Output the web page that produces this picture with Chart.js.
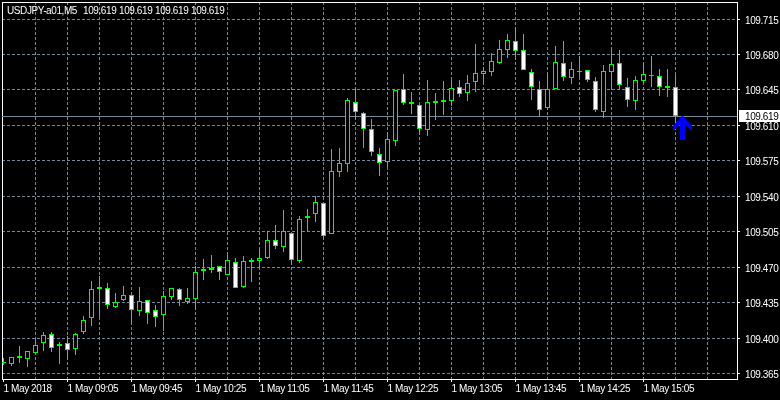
<!DOCTYPE html>
<html>
<head>
<meta charset="utf-8">
<script src="https://cdn.jsdelivr.net/npm/chart.js@4/dist/chart.umd.min.js"></script>
<style>
  html, body { margin: 0; padding: 0; background: #000; }
  canvas { display: block; }
</style>
</head>
<body>
<canvas id="chart" width="780" height="400"></canvas>
<script>
const symbolTitle = "USDJPY-a01,M5";
const lastPrice = 109.619;

const opens = [
  109.375,109.374,109.380,109.379,109.385,109.395,109.404,109.392,109.395,109.389,
  109.406,109.420,109.450,109.449,109.430,109.437,109.442,109.426,109.437,109.427,
  109.423,109.440,109.448,109.435,109.438,109.466,109.467,109.471,109.462,109.475,
  109.450,109.475,109.476,109.479,109.497,109.490,109.503,109.476,109.518,109.522,
  109.533,109.502,109.564,109.571,109.633,109.622,109.606,109.581,109.573,109.594,
  109.645,109.633,109.630,109.605,109.632,109.633,109.634,109.647,109.642,109.652,
  109.660,109.662,109.671,109.684,109.693,109.684,109.662,109.645,109.627,109.645,
  109.671,109.656,109.662,109.664,109.653,109.623,109.662,109.671,109.647,109.634,
  109.653,109.658,109.658,109.648,109.647
];
const highs = [
  109.380,109.381,109.392,109.387,109.399,109.406,109.406,109.396,109.402,109.405,
  109.422,109.456,109.461,109.454,109.444,109.451,109.442,109.450,109.437,109.432,
  109.446,109.449,109.449,109.449,109.471,109.478,109.482,109.471,109.484,109.479,
  109.481,109.479,109.488,109.505,109.511,109.526,109.503,109.520,109.527,109.540,
  109.533,109.586,109.587,109.637,109.646,109.623,109.616,109.587,109.603,109.644,
  109.660,109.643,109.631,109.654,109.642,109.653,109.654,109.654,109.659,109.690,
  109.667,109.681,109.694,109.700,109.707,109.700,109.665,109.653,109.660,109.688,
  109.693,109.672,109.678,109.664,109.657,109.669,109.686,109.684,109.656,109.658,
  109.671,109.678,109.665,109.665,109.659
];
const lows = [
  109.373,109.372,109.375,109.371,109.385,109.387,109.386,109.374,109.379,109.383,
  109.404,109.412,109.421,109.428,109.429,109.436,109.415,109.422,109.414,109.411,
  109.407,109.437,109.431,109.433,109.427,109.457,109.464,109.457,109.462,109.449,
  109.449,109.455,109.469,109.478,109.488,109.485,109.472,109.474,109.504,109.514,
  109.498,109.502,109.559,109.564,109.616,109.587,109.579,109.560,109.569,109.589,
  109.630,109.621,109.600,109.599,109.615,109.620,109.629,109.638,109.634,109.643,
  109.651,109.658,109.670,109.676,109.675,109.664,109.635,109.618,109.625,109.645,
  109.653,109.650,109.657,109.652,109.623,109.617,109.644,109.644,109.628,109.625,
  109.651,109.647,109.639,109.638,109.612
];
const closes = [
  109.376,109.381,109.382,109.387,109.393,109.403,109.390,109.394,109.388,109.404,
  109.418,109.448,109.448,109.432,109.435,109.442,109.427,109.436,109.425,109.421,
  109.441,109.449,109.437,109.439,109.465,109.468,109.469,109.465,109.477,109.449,
  109.476,109.477,109.479,109.497,109.491,109.505,109.477,109.517,109.520,109.534,
  109.500,109.565,109.572,109.635,109.623,109.606,109.583,109.572,109.596,109.644,
  109.632,109.631,109.606,109.633,109.634,109.635,109.646,109.641,109.651,109.661,
  109.663,109.673,109.685,109.694,109.683,109.664,109.647,109.625,109.645,109.672,
  109.657,109.665,109.663,109.654,109.625,109.663,109.670,109.649,109.635,109.654,
  109.660,109.659,109.647,109.646,109.619
];

// one tick every 4 bars gets a grid line, every 8th has a label
const gridIndexes = [4,8,12,16,20,24,28,32,36,40,44,48,52,56,60,64,68,72,76,80,84,88];
const tickIndexes = [0,8,16,24,32,40,48,56,64,72,80];
const tickLabels = [
  "1 May 2018","1 May 09:05","1 May 09:45","1 May 10:25","1 May 11:05","1 May 11:45",
  "1 May 12:25","1 May 13:05","1 May 13:45","1 May 14:25","1 May 15:05"
];
const priceTicks = [109.365,109.400,109.435,109.470,109.505,109.540,109.575,109.610,109.645,109.680,109.715];

const arrowIndex = 84.87;
const arrowPrice = 109.619;

const FONT = "10px 'Liberation Sans'";
const GRID = "#778899";
const GREEN = "#00ff00";
const XMIN = -0.1875;
const XMAX = 91.6875;

const bars = opens.map((o, i) => i);

const frame = {
  id: "frame",
  beforeDraw(chart) {
    chart.ctx.letterSpacing = "-0.4px";
  },
  beforeDatasetsDraw(chart) {
    const { ctx, chartArea: a, scales } = chart;
    ctx.save();
    ctx.strokeStyle = "#fff";
    ctx.lineWidth = 1;
    ctx.strokeRect(a.left + 0.5, a.top + 0.5, a.right - a.left, a.bottom - a.top);

    // last price line, behind the candles
    const y = Math.round(scales.y.getPixelForValue(lastPrice)) + 0.5;
    ctx.strokeStyle = GRID;
    ctx.beginPath();
    ctx.moveTo(a.left, y);
    ctx.lineTo(a.right, y);
    ctx.stroke();
    ctx.restore();
  },
  afterDraw(chart) {
    const { ctx, scales } = chart;
    ctx.save();
    ctx.font = FONT;
    ctx.textBaseline = "middle";

    // header text
    ctx.fillStyle = "#fff";
    ctx.fillText(symbolTitle, 7, 11);
    [83, 119, 155, 191].forEach(x => ctx.fillText(lastPrice.toFixed(3), x, 11));

    // last price tag
    const y = Math.round(scales.y.getPixelForValue(lastPrice));
    ctx.fillStyle = "#fff";
    ctx.fillRect(739, y - 6, 41, 12);
    ctx.fillStyle = "#000";
    ctx.fillText(lastPrice.toFixed(3), 745, y + 1);

    // blue arrow, its tip sits on the price
    const ax = scales.x.getPixelForValue(arrowIndex);
    const ay = scales.y.getPixelForValue(arrowPrice);
    ctx.fillStyle = "#0000ff";
    ctx.beginPath();
    ctx.moveTo(ax, ay - 0.5);
    ctx.lineTo(ax + 9.5, ay + 10);
    ctx.lineTo(ax + 9.5, ay + 15.5);
    ctx.lineTo(ax + 2.8, ay + 9);
    ctx.lineTo(ax + 2.8, ay + 24);
    ctx.lineTo(ax - 2.8, ay + 24);
    ctx.lineTo(ax - 2.8, ay + 9);
    ctx.lineTo(ax - 9.5, ay + 15.5);
    ctx.lineTo(ax - 9.5, ay + 10);
    ctx.closePath();
    ctx.fill();
    ctx.restore();
  }
};

new Chart(document.getElementById("chart"), {
  type: "bar",
  data: {
    datasets: [
      {
        data: bars.map(i => ({ x: i, y: [lows[i], highs[i]] })),
        backgroundColor: GREEN,
        barThickness: 1,
        grouped: false,
        inflateAmount: 0,
        order: 2
      },
      {
        data: bars.map(i => ({ x: i, y: [opens[i], closes[i]] })),
        backgroundColor: bars.map(i => closes[i] < opens[i] ? "#fff" : "#000"),
        borderColor: GREEN,
        borderWidth: 1,
        borderSkipped: false,
        barThickness: 5,
        grouped: false,
        inflateAmount: 0,
        order: 1
      }
    ]
  },
  plugins: [frame],
  options: {
    responsive: false,
    animation: false,
    devicePixelRatio: 1,
    layout: { padding: { left: 2, top: 2, right: 0, bottom: 0 } },
    plugins: { legend: { display: false }, tooltip: { enabled: false } },
    scales: {
      x: {
        type: "linear",
        offset: false,
        min: XMIN,
        max: XMAX,
        afterBuildTicks: s => { s.ticks = [0].concat(gridIndexes).map(v => ({ value: v })); },
        afterFit: s => { s.height = 21; s.paddingLeft = 0; s.paddingRight = 0; },
        border: { display: false, dash: [3, 2] },
        grid: {
          offset: false,
          color: c => c.tick && c.tick.value === 0 ? "transparent" : GRID,
          tickColor: c => c.tick && tickIndexes.includes(c.tick.value) ? "#fff" : "transparent",
          tickLength: 3,
          tickBorderDash: []
        },
        ticks: {
          color: "#fff",
          font: { family: "Liberation Sans", size: 10 },
          align: "start",
          padding: 1,
          maxRotation: 0,
          autoSkip: false,
          callback: v => tickIndexes.includes(v) ? tickLabels[tickIndexes.indexOf(v)] : ""
        }
      },
      y: {
        position: "right",
        min: 109.3594,
        max: 109.7313,
        alignToPixels: true,
        afterBuildTicks: s => { s.ticks = priceTicks.map(v => ({ value: v })); },
        afterFit: s => { s.width = 43; s.paddingTop = 0; s.paddingBottom = 0; },
        border: { display: false, dash: [3, 2] },
        grid: {
          color: GRID,
          tickColor: "#fff",
          tickLength: 3,
          tickBorderDash: []
        },
        ticks: {
          color: "#fff",
          font: { family: "Liberation Sans", size: 10 },
          padding: 5,
          labelOffset: 2,
          autoSkip: false,
          callback: v => v.toFixed(3)
        }
      }
    }
  }
});
</script>
</body>
</html>
